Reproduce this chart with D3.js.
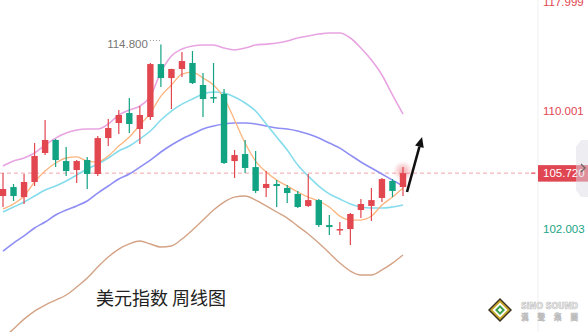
<!DOCTYPE html>
<html>
<head>
<meta charset="utf-8">
<script src="https://cdn.jsdelivr.net/npm/d3@7"></script>
<style>
  body { margin: 0; background: #fff; }
  svg { display: block; }
</style>
</head>
<body>
<script>
var width = 588,
    height = 332;

// weekly candles (USD index)
var opens  = [104.18,104.78,104.11,105.12,107.09,107.99,106.54,105.93,106.61,105.66,108.12,109.17,109.87,108.75,109.59,113.37,112.36,113.01,113.45,111.86,111.00,111.22,106.54,107.02,106.13,104.72,104.99,104.72,104.32,103.52,103.91,102.26,101.94,102.00,103.25,103.52,104.05,105.19,104.78];
var highs  = [105.73,104.99,105.66,107.78,109.38,108.06,107.50,106.61,106.82,108.26,109.45,110.08,110.93,110.36,113.45,114.80,113.03,114.25,114.32,112.72,113.45,111.57,107.30,107.99,107.23,105.86,105.25,104.92,104.52,105.66,103.98,102.92,102.46,103.05,103.98,104.72,105.39,105.32,106.13];
var lows   = [103.45,103.85,103.65,104.85,106.95,106.13,105.52,105.05,104.65,105.52,107.57,108.40,108.47,107.71,109.38,111.72,110.15,112.43,111.93,109.59,110.58,106.34,105.39,105.73,104.38,104.11,103.45,103.72,103.38,103.45,102.13,101.61,101.61,100.96,102.72,102.53,103.78,104.11,104.18];
var closes = [104.65,104.18,105.12,106.89,107.99,106.61,105.86,106.54,105.66,108.12,108.82,109.73,109.10,109.73,113.37,112.36,113.01,113.59,112.00,110.86,110.93,106.41,106.95,106.07,104.52,104.99,104.85,104.38,103.45,103.91,102.26,102.13,102.00,102.99,103.65,103.91,105.32,104.52,105.72];

// indicator lines
var ma5   = [103.32,103.65,104.18,105.12,105.86,106.41,106.75,106.82,106.54,106.48,106.89,107.57,108.19,109.03,109.87,111.07,111.86,112.65,112.79,112.36,111.86,110.93,109.38,107.78,106.54,105.79,105.25,104.85,104.45,104.11,103.85,103.45,102.85,102.59,102.59,102.85,103.58,104.11,104.72];
var ma10  = [103.12,103.45,103.78,104.18,104.58,104.85,105.19,105.59,106.00,106.34,106.75,107.23,107.57,108.06,108.61,109.38,110.01,110.50,110.86,111.22,111.36,111.29,111.00,110.58,110.01,109.10,108.19,107.30,106.27,105.52,104.85,104.32,103.98,103.65,103.45,103.38,103.38,103.45,103.58];
var ma20  = [100.57,101.09,101.55,102.07,102.46,102.92,103.25,103.52,103.85,104.38,104.85,105.32,105.66,106.13,106.61,107.16,107.64,108.06,108.40,108.75,108.96,109.10,109.17,109.17,109.10,108.96,108.82,108.75,108.61,108.40,108.12,107.78,107.43,106.95,106.48,106.07,105.66,105.25,104.85];
var upper = [106.20,106.54,106.75,107.09,107.64,108.12,108.47,108.68,108.75,108.75,109.10,109.73,110.08,110.36,111.07,112.79,113.96,114.47,114.69,114.76,114.76,114.54,114.40,114.54,114.76,114.83,114.91,115.06,115.28,115.43,115.57,115.65,115.65,115.28,114.54,113.66,112.58,111.15,109.80];
var lower = [95.12,95.67,96.28,96.78,97.15,97.46,97.78,98.28,98.85,99.55,100.19,100.70,101.03,101.22,101.03,100.83,100.90,101.35,101.94,102.59,103.25,103.78,104.11,104.18,103.91,103.52,103.12,102.72,102.19,101.68,101.09,100.45,99.80,99.29,99.04,99.04,99.36,99.80,100.32];

var axisTicks = [117.999, 110.001, 102.003];
var lastPrice = 105.720;
var highMark = 114.800;
var arrowFrom = [38.38, 104.45],
    arrowTo   = [39.81, 108.19];
var title = "美元指数 周线图";

var red = "#e2464f",
    green = "#12a383";

var x = d3.scaleLinear().domain([0, closes.length - 1]).range([3, 403]);
var y = d3.scaleLog().domain([102.003, 117.999]).range([229, 1.6]);

var svg = d3.select("body").append("svg")
    .attr("width", width)
    .attr("height", height);

var defs = svg.append("defs");
var glow = defs.append("radialGradient").attr("id", "glow");
glow.append("stop").attr("offset", "0%").attr("stop-color", red).attr("stop-opacity", 0.45);
glow.append("stop").attr("offset", "100%").attr("stop-color", red).attr("stop-opacity", 0);

// right axis separator
svg.append("line")
    .attr("x1", 538).attr("x2", 538)
    .attr("y1", 0).attr("y2", height)
    .attr("stroke", "#f0f0f2");

// current price dashed line
svg.append("line")
    .attr("x1", 0).attr("x2", 536)
    .attr("y1", y(lastPrice)).attr("y2", y(lastPrice))
    .attr("stroke", "#f2a5ac")
    .attr("stroke-dasharray", "4,3");

var idx = d3.range(closes.length);
var line = function(data) {
  return d3.line()
    .x(function(i) { return x(i); })
    .y(function(i) { return y(data[i]); })
    .curve(d3.curveMonotoneX)(idx);
};

var series = [
  {data: lower, color: "#d4a385", w: 1.4},
  {data: ma20, color: "#8e8ef4", w: 1.6},
  {data: upper, color: "#e8a4e2", w: 1.6},
  {data: ma10, color: "#86dcec", w: 1.6},
  {data: ma5, color: "#fdb47e", w: 1.3}
];

svg.selectAll(".ind").data(series).enter().append("path")
    .attr("class", "ind")
    .attr("d", function(s) { return line(s.data); })
    .attr("fill", "none")
    .attr("stroke", function(s) { return s.color; })
    .attr("stroke-width", function(s) { return s.w; });

// glow on last candle
var last = closes.length - 1;
svg.append("circle")
    .attr("cx", x(last))
    .attr("cy", y(closes[last]) - 2)
    .attr("r", 10)
    .attr("fill", "url(#glow)");

var candle = svg.selectAll(".candle").data(idx).enter().append("g")
    .attr("class", "candle");

candle.append("line")
    .attr("x1", function(i) { return x(i); })
    .attr("x2", function(i) { return x(i); })
    .attr("y1", function(i) { return y(highs[i]); })
    .attr("y2", function(i) { return y(lows[i]); })
    .attr("stroke", function(i) { return closes[i] >= opens[i] ? red : green; })
    .attr("stroke-width", 1.2);

candle.append("rect")
    .attr("x", function(i) { return x(i) - 3.2; })
    .attr("width", 6.4)
    .attr("y", function(i) { return y(Math.max(opens[i], closes[i])); })
    .attr("height", function(i) {
      return Math.max(1.5, y(Math.min(opens[i], closes[i])) - y(Math.max(opens[i], closes[i])));
    })
    .attr("fill", function(i) { return closes[i] >= opens[i] ? red : green; });

// high marker
var hi = highs.indexOf(highMark);
svg.append("text")
    .attr("x", x(hi) - 13)
    .attr("y", y(highMark) - 1)
    .attr("text-anchor", "end")
    .attr("dominant-baseline", "central")
    .attr("font-family", "Liberation Sans, Arial, sans-serif")
    .attr("font-size", 11.5)
    .attr("fill", "#777")
    .text(d3.format(".3f")(highMark));
svg.append("line")
    .attr("x1", x(hi) - 11).attr("x2", x(hi) - 1)
    .attr("y1", y(highMark) - 4).attr("y2", y(highMark) - 4)
    .attr("stroke", "#999")
    .attr("stroke-dasharray", "1,2");

// arrow
var ax0 = x(arrowFrom[0]), ay0 = y(arrowFrom[1]),
    ax1 = x(arrowTo[0]), ay1 = y(arrowTo[1]);
var ang = Math.atan2(ay1 - ay0, ax1 - ax0);
var hl = 10, hw = 4.5;
var bx = ax1 - hl * Math.cos(ang), by = ay1 - hl * Math.sin(ang);
svg.append("line")
    .attr("x1", ax0).attr("y1", ay0)
    .attr("x2", bx).attr("y2", by)
    .attr("stroke", "#111")
    .attr("stroke-width", 2.6);
svg.append("path")
    .attr("d", "M" + ax1 + "," + ay1 +
      "L" + (bx + hw * Math.sin(ang)) + "," + (by - hw * Math.cos(ang)) +
      "L" + (bx - hw * Math.sin(ang)) + "," + (by + hw * Math.cos(ang)) + "Z")
    .attr("fill", "#111");

// axis labels
svg.selectAll(".tick").data(axisTicks).enter().append("text")
    .attr("x", 543)
    .attr("y", function(d) { return y(d); })
    .attr("dominant-baseline", "central")
    .attr("font-family", "Liberation Sans, Arial, sans-serif")
    .attr("font-size", 11.5)
    .attr("fill", function(d) { return d < lastPrice ? "#1aa387" : "#e2464f"; })
    .text(function(d) { return d3.format(".3f")(d); });

svg.append("line")
    .attr("x1", 531).attr("x2", 535)
    .attr("y1", y(lastPrice)).attr("y2", y(lastPrice))
    .attr("stroke", red);
svg.append("rect")
    .attr("x", 538).attr("y", y(lastPrice) - 8)
    .attr("width", 50).attr("height", 16.5)
    .attr("fill", "#e04552");
svg.append("text")
    .attr("x", 543)
    .attr("y", y(lastPrice))
    .attr("dominant-baseline", "central")
    .attr("font-family", "Liberation Sans, Arial, sans-serif")
    .attr("font-size", 11.5)
    .attr("fill", "#fff")
    .text(d3.format(".3f")(lastPrice));

// side tab
svg.append("path")
    .attr("d", "M588,140L581,140L576,147L576,190L581,197L588,197Z")
    .attr("fill", "#dcdce6")
    .attr("opacity", 0.5);
svg.append("path")
    .attr("d", "M581,164L585,168L581,172")
    .attr("fill", "none")
    .attr("stroke", "#666")
    .attr("stroke-width", 1.2);

// title
svg.append("text")
    .attr("x", 96)
    .attr("y", 305)
    .attr("font-family", "Noto Sans CJK SC, sans-serif")
    .attr("font-size", 18)
    .attr("fill", "#222")
    .text(title);

// logo
var logo = svg.append("g").attr("transform", "translate(500,310)");
[[12, "#3b3220"], [10, "#c9a82a"], [7.5, "#ffffff"], [5, "#3aa34a"], [2.2, "#ffffff"]].forEach(function(d) {
  logo.append("path")
      .attr("d", "M0," + (-d[0]) + "L" + d[0] + ",0L0," + d[0] + "L" + (-d[0]) + ",0Z")
      .attr("fill", d[1]);
});
svg.append("text")
    .attr("x", 521).attr("y", 308.5)
    .attr("font-family", "DejaVu Sans, sans-serif")
    .attr("font-weight", "bold")
    .attr("font-size", 8)
    .attr("textLength", 57)
    .attr("fill", "#f4f4f4")
    .attr("stroke", "#bcbcbc")
    .attr("stroke-width", 0.6)
    .text("SiNO SOUND");
svg.append("text")
    .attr("x", 521).attr("y", 319.5)
    .attr("font-family", "Noto Sans CJK TC, sans-serif")
    .attr("font-weight", "bold")
    .attr("font-size", 7.5)
    .attr("textLength", 57)
    .attr("fill", "#f4f4f4")
    .attr("stroke", "#bcbcbc")
    .attr("stroke-width", 0.6)
    .text("漢聲集團");
</script>
</body>
</html>
